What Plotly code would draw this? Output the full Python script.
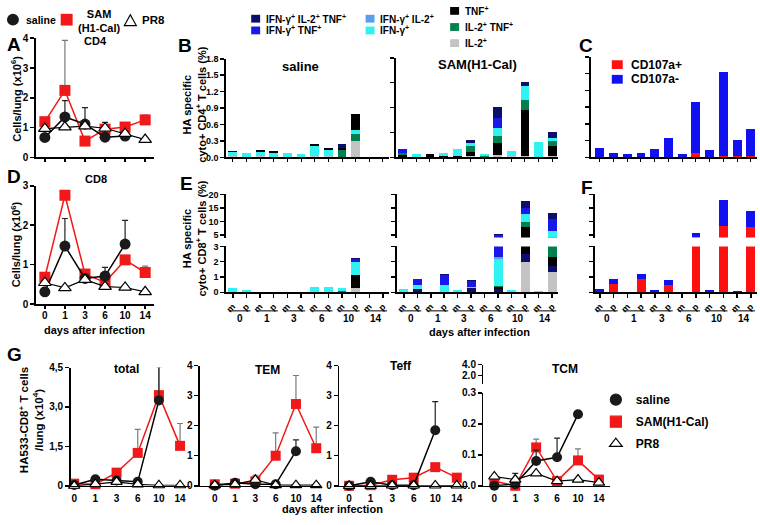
import plotly.graph_objects as go

W, H = 760, 525

# ------------------------------------------------------------------ data
DAYS = ["0", "1", "3", "6", "10", "14"]
MP = ["m", "p"] * 6

# A: CD4 cells/lung (x10^6)
A_SALINE = [0.67, 1.36, 1.12, 0.68, 0.72, None]
A_SALINE_ERR = [0, 0.55, 0.55, 0.50, 0, 0]
A_SAM = [1.20, 2.25, 0.55, 0.95, 1.02, 1.26]
A_SAM_ERR = [0, 1.68, 0, 0.12, 0, 0.16]
A_PR8 = [0.97, 1.02, 1.05, 0.98, 0.80, 0.60]

# D: CD8 cells/lung (x10^6)
D_SALINE = [0.31, 1.47, 0.65, 0.71, 1.52, None]
D_SALINE_ERR = [0, 0.70, 0, 0.22, 0.60, 0]
D_SAM = [0.68, 2.76, 0.76, 0.55, 1.12, 0.80]
D_SAM_ERR = [0.10, 0, 0, 0.05, 0, 0.16]
D_PR8 = [0.54, 0.41, 0.62, 0.44, 0.42, 0.31]

# B: HA specific cyto+ CD4+ T cells (%), bars m/p per day
B_SALINE = {
    "IL-2+":             [0.02, 0, 0.02, 0.01, 0, 0, 0.02, 0.02, 0, 0.30, 0, 0],
    "IL-2+ TNF+":        [0, 0, 0, 0, 0, 0, 0, 0, 0.13, 0.12, 0, 0],
    "IFN-γ+":            [0.08, 0.09, 0.08, 0.07, 0.09, 0.07, 0.18, 0.11, 0, 0.08, 0, 0],
    "TNF+ (upper)":      [0.02, 0, 0.03, 0.03, 0, 0, 0.05, 0.04, 0.04, 0.29, 0, 0],
    "IFN-γ+ IL-2+ TNF+": [0, 0, 0, 0, 0, 0, 0, 0, 0.07, 0, 0, 0],
}
B_SAM = {
    "IL-2+":             [0, 0, 0, 0, 0, 0.03, 0, 0.05, 0.02, 0.02, 0, 0.02],
    "TNF+":              [0.04, 0.01, 0.06, 0.02, 0.03, 0.08, 0, 0.23, 0, 0.93, 0, 0.20],
    "IL-2+ TNF+":        [0.05, 0, 0, 0, 0, 0.11, 0.02, 0.16, 0, 0.21, 0, 0.11],
    "IFN-γ+":            [0, 0.06, 0, 0.07, 0.13, 0.08, 0.04, 0.16, 0.11, 0.28, 0.32, 0.06],
    "IFN-γ+ TNF+":       [0.08, 0, 0, 0, 0, 0, 0, 0.20, 0, 0, 0, 0],
    "IFN-γ+ IL-2+ TNF+": [0, 0, 0, 0, 0, 0.06, 0, 0.21, 0, 0.08, 0, 0.13],
}

# C: CD107a split of CD4 responses (SAM)
C_POS = [0, 0, 0, 0, 0, 0.015, 0, 0.087, 0, 0.03, 0.025, 0.02]
C_NEG = [0.175, 0.075, 0.058, 0.087, 0.157, 0.335, 0.058, 0.913, 0.128, 1.49, 0.295, 0.49]

# E: HA specific cyto+ CD8+ T cells (%)
E_SALINE = {
    "IL-2+":             [0, 0, 0, 0, 0, 0, 0, 0.03, 0, 0.25, 0, 0],
    "TNF+":              [0, 0, 0, 0, 0, 0, 0, 0, 0.05, 0.85, 0, 0],
    "IL-2+ TNF+":        [0, 0, 0, 0, 0, 0, 0, 0, 0.05, 0, 0, 0],
    "IFN-γ+":            [0.25, 0.15, 0.03, 0.03, 0.03, 0.03, 0.35, 0.32, 0.15, 0.90, 0.02, 0.02],
    "IFN-γ+ TNF+":       [0, 0, 0, 0, 0, 0, 0, 0, 0, 0.17, 0, 0],
    "IFN-γ+ IL-2+ TNF+": [0, 0, 0, 0, 0, 0, 0, 0, 0, 0.10, 0, 0],
}
E_SAM = {
    "IL-2+":                     [0, 0, 0, 0, 0, 0, 0, 0.05, 0, 2.0, 0, 1.3],
    "IFN-γ+ IL-2+ TNF+ (lower)": [0, 0.20, 0, 0.05, 0, 0.25, 0, 0.15, 0, 0.5, 0, 0.4],
    "TNF+":                      [0, 0, 0, 0, 0, 0, 0, 0.15, 0, 5.6, 0, 0.6],
    "IL-2+ TNF+":                [0, 0, 0, 0, 0, 0, 0, 0.05, 0, 1.8, 0, 2.0],
    "IFN-γ+":                    [0.20, 0.30, 0.03, 0.45, 0.12, 0.10, 0.02, 1.8, 0.15, 2.8, 0.10, 2.1],
    "IFN-γ+ IL-2+":              [0, 0, 0, 0, 0, 0, 0, 0.10, 0, 0, 0, 0],
    "IFN-γ+ TNF+":               [0, 0.37, 0, 0.65, 0.05, 0.40, 0, 2.6, 0, 2.4, 0, 4.5],
    "IFN-γ+ IL-2+ TNF+":         [0, 0, 0, 0.05, 0, 0.07, 0, 0.40, 0, 2.4, 0, 2.1],
}

# F: CD107a split of CD8 responses (SAM)
F_POS = [0.02, 0.57, 0, 0.87, 0.04, 0.50, 0, 4.2, 0.03, 8.3, 0, 7.9]
F_NEG = [0.18, 0.28, 0.03, 0.33, 0.09, 0.32, 0.02, 1.6, 0.12, 9.8, 0.10, 5.9]

# G: HA533-CD8+ T cells / lung (x10^4)
G_TOT_SALINE = [0.03, 0.25, 0.20, 0.15, 3.25, None]
G_TOT_SALINE_ERR = [0, 0, 0, 0, 1.28, 0]
G_TOT_SAM = [0.08, 0.06, 0.50, 1.25, 3.45, 1.52]
G_TOT_SAM_ERR = [0, 0, 0.10, 0.90, 1.10, 0.85]
G_TOT_PR8 = [0.0, 0.06, 0.15, 0.05, 0.02, 0.02]

G_TEM_SALINE = [0.0, 0.10, 0.05, 0.05, 1.15, None]
G_TEM_SALINE_ERR = [0, 0, 0, 0, 0.38, 0]
G_TEM_SAM = [0.05, 0.07, 0.15, 1.0, 2.72, 1.25]
G_TEM_SAM_ERR = [0, 0, 0.20, 0.76, 0.95, 0.70]
G_TEM_PR8 = [0.02, 0.05, 0.20, 0.02, 0.02, 0.02]

G_TEFF_SALINE = [0.0, 0.13, 0.02, 0.02, 1.85, None]
G_TEFF_SALINE_ERR = [0, 0, 0, 0, 0.95, 0]
G_TEFF_SAM = [0.0, 0.02, 0.20, 0.27, 0.62, 0.27]
G_TEFF_SAM_ERR = [0, 0, 0, 0, 0, 0]
G_TEFF_PR8 = [0.0, 0.0, 0.01, 0.01, 0.01, 0.01]

G_TCM_SALINE = [0.0, 0.005, 0.08, 0.092, 0.231, None]
G_TCM_SALINE_ERR = [0, 0, 0.035, 0.062, 0, 0]
G_TCM_SAM = [0.015, 0.0, 0.124, 0.015, 0.082, 0.02]
G_TCM_SAM_ERR = [0, 0, 0.027, 0, 0.037, 0]
G_TCM_PR8 = [0.03, 0.02, 0.04, 0.015, 0.02, 0.01]
G_TCM_PR8_ERR = [0, 0.02, 0, 0, 0, 0]

# ------------------------------------------------------------------ styles
FONT = "Liberation Sans, Arial, Helvetica, sans-serif"
RED = "#f01818"
SEG_ORDER = [
    "IL-2+", "IFN-γ+ IL-2+ TNF+ (lower)", "TNF+", "IL-2+ TNF+", "IFN-γ+",
    "IFN-γ+ IL-2+", "TNF+ (upper)", "IFN-γ+ TNF+", "IFN-γ+ IL-2+ TNF+",
]
SEG_COLOR = {
    "IL-2+": "#c3c3c3",
    "IFN-γ+ IL-2+ TNF+ (lower)": "#0d0d6b",
    "TNF+": "#000000",
    "IL-2+ TNF+": "#00804e",
    "IFN-γ+": "#2ff2f2",
    "IFN-γ+ IL-2+": "#5a9ef0",
    "TNF+ (upper)": "#000000",
    "IFN-γ+ TNF+": "#1818e8",
    "IFN-γ+ IL-2+ TNF+": "#0d0d6b",
}
CD107_POS_COLOR = "#ff1010"
CD107_NEG_COLOR = "#1010f0"


def X(l, r):
    return [l / W, r / W]


def Y(t, b):
    return [1 - b / H, 1 - t / H]


def py(p):
    return 1 - p / H


def px(p):
    return p / W


def xr(i):
    return "x" if i == 1 else f"x{i}"


def yr(i):
    return "y" if i == 1 else f"y{i}"


def xk(i):
    return "xaxis" if i == 1 else f"xaxis{i}"


def yk(i):
    return "yaxis" if i == 1 else f"yaxis{i}"


AXS = dict(showline=True, linecolor="black", linewidth=1.5, ticks="outside",
           ticklen=4, tickwidth=1.5, tickcolor="black", showgrid=False,
           zeroline=False, tickfont=dict(size=10, color="black"), fixedrange=True)

fig = go.Figure()
lay = {}
BARPOS = list(range(12))
DAYPOS = list(range(6))


def add_stack(data, i):
    for key in SEG_ORDER:
        vals = data.get(key)
        if vals is None:
            continue
        fig.add_trace(go.Bar(x=BARPOS, y=vals, width=0.65, name=key,
                             marker=dict(color=SEG_COLOR[key], line=dict(width=0)),
                             xaxis=xr(i), yaxis=yr(i), showlegend=False,
                             hoverinfo="skip"))


def add_cd107(pos, neg, i):
    fig.add_trace(go.Bar(x=BARPOS, y=pos, width=0.65, name="CD107a+",
                         marker=dict(color=CD107_POS_COLOR, line=dict(width=0)),
                         xaxis=xr(i), yaxis=yr(i), showlegend=False, hoverinfo="skip"))
    fig.add_trace(go.Bar(x=BARPOS, y=neg, width=0.65, name="CD107a-",
                         marker=dict(color=CD107_NEG_COLOR, line=dict(width=0)),
                         xaxis=xr(i), yaxis=yr(i), showlegend=False, hoverinfo="skip"))


def err(arr):
    return dict(type="data", symmetric=False, array=[e or 0 for e in arr],
                arrayminus=[0] * len(arr), thickness=1.2, width=3)


def add_lines(i, saline, saline_err, sam, sam_err, pr8, pr8_err=None, msize=11):
    e_sam = err(sam_err)
    e_sam["color"] = "#7a7a7a"
    fig.add_trace(go.Scatter(x=DAYPOS, y=sam, mode="lines+markers", name="SAM(H1-Cal)",
                             line=dict(color=RED, width=1.5),
                             marker=dict(symbol="square", size=msize, color=RED),
                             error_y=e_sam, xaxis=xr(i), yaxis=yr(i),
                             showlegend=False, cliponaxis=False, hoverinfo="skip"))
    e_sal = err(saline_err)
    e_sal["color"] = "#222222"
    fig.add_trace(go.Scatter(x=DAYPOS, y=saline, mode="lines+markers", name="saline",
                             line=dict(color="black", width=1.5),
                             marker=dict(symbol="circle", size=msize, color="#1a1a1a"),
                             error_y=e_sal, xaxis=xr(i), yaxis=yr(i),
                             showlegend=False, cliponaxis=False, hoverinfo="skip"))
    kw = {}
    if pr8_err is not None:
        e_p = err(pr8_err)
        e_p["color"] = "#222222"
        kw["error_y"] = e_p
    fig.add_trace(go.Scatter(x=DAYPOS, y=pr8, mode="lines+markers", name="PR8",
                             line=dict(color="black", width=1.2),
                             marker=dict(symbol="triangle-up", size=msize, color="white",
                                         line=dict(color="black", width=1.2)),
                             xaxis=xr(i), yaxis=yr(i), showlegend=False,
                             cliponaxis=False, hoverinfo="skip", **kw))


# ---------------- A / D
add_lines(1, A_SALINE, A_SALINE_ERR, A_SAM, A_SAM_ERR, A_PR8)
lay[xk(1)] = dict(AXS, domain=X(33, 152), anchor="y", range=[-0.45, 5.45],
                  tickvals=DAYPOS, showticklabels=False, ticklen=3)
lay[yk(1)] = dict(AXS, domain=Y(33, 155), anchor="x", range=[0, 4], dtick=1)

add_lines(2, D_SALINE, D_SALINE_ERR, D_SAM, D_SAM_ERR, D_PR8)
lay[xk(2)] = dict(AXS, domain=X(33, 152), anchor="y2", range=[-0.45, 5.45],
                  tickvals=DAYPOS, ticktext=DAYS, ticklen=3, ticklabelstandoff=-2)
lay[yk(2)] = dict(AXS, domain=Y(184, 305), anchor="x2", range=[0, 3], dtick=1)

# ---------------- B
add_stack(B_SALINE, 3)
lay[xk(3)] = dict(AXS, domain=X(224, 388), anchor="y3", range=[-0.51, 11.44],
                  tickvals=BARPOS, showticklabels=False, ticklen=3, tickwidth=1)
lay[yk(3)] = dict(AXS, domain=Y(54, 155), anchor="x3", range=[0, 1.8], dtick=0.3,
                  tickformat=".1f", tickfont=dict(size=9, color="black"))
add_stack(B_SAM, 4)
lay[xk(4)] = dict(AXS, domain=X(395, 558), anchor="y4", range=[-0.51, 11.44],
                  tickvals=BARPOS, showticklabels=False, ticklen=3, tickwidth=1)
lay[yk(4)] = dict(AXS, domain=Y(53, 155), anchor="x4", range=[0, 2], dtick=0.5,
                  showticklabels=False)

# ---------------- C
add_cd107(C_POS, C_NEG, 5)
lay[xk(5)] = dict(AXS, domain=X(591, 758), anchor="y5", range=[-0.65, 11.45],
                  tickvals=BARPOS, showticklabels=False, ticklen=3, tickwidth=1)
lay[yk(5)] = dict(AXS, domain=Y(52, 155), anchor="x5", range=[0, 1.8], dtick=0.3,
                  showticklabels=False)

# ---------------- E (broken axis) and F
LOW_RANGE = [0, 3]
UP_RANGE = [4, 20.4]
for (lo, up, x0, x1, rng, data, labels) in [
    (6, 7, 224, 388, [-0.51, 11.44], E_SALINE, True),
    (8, 9, 396, 558, [-0.51, 11.44], E_SAM, False),
    (10, 11, 595, 758, [-0.37, 11.45], None, False),
]:
    if data is not None:
        add_stack(data, lo)
        add_stack(data, up)
    else:
        add_cd107(F_POS, F_NEG, lo)
        add_cd107(F_POS, F_NEG, up)
    lay[xk(lo)] = dict(AXS, domain=X(x0, x1), anchor=yr(lo), range=rng,
                       tickvals=BARPOS, ticktext=MP, tickangle=-45,
                       tickfont=dict(size=9, color="black"))
    lay[yk(lo)] = dict(AXS, domain=Y(246, 293), anchor=xr(lo), range=LOW_RANGE,
                       dtick=1, showticklabels=labels,
                       tickfont=dict(size=9, color="black"))
    lay[xk(up)] = dict(domain=X(x0, x1), anchor=yr(up), range=rng, visible=False,
                       fixedrange=True)
    lay[yk(up)] = dict(AXS, domain=Y(192, 237), anchor=xr(up), range=UP_RANGE,
                       tickvals=[5, 10, 15, 20], showticklabels=labels,
                       tickfont=dict(size=9, color="black"))

# ---------------- G
GX = dict(AXS, ticks="", tickfont=dict(size=10, color="black"), ticklabelstandoff=3)
add_lines(12, G_TOT_SALINE, G_TOT_SALINE_ERR, G_TOT_SAM, G_TOT_SAM_ERR, G_TOT_PR8, msize=10)
lay[xk(12)] = dict(GX, domain=X(68, 188), anchor="y12", range=[-0.17, 5.47],
                   tickvals=DAYPOS, ticktext=DAYS)
lay[yk(12)] = dict(AXS, domain=Y(370, 491), anchor="x12", range=[0, 4.5],
                   tickvals=[0, 1.5, 3.0, 4.5], ticktext=["0", "1,5", "3,0", "4,5"])

add_lines(13, G_TEM_SALINE, G_TEM_SALINE_ERR, G_TEM_SAM, G_TEM_SAM_ERR, G_TEM_PR8, msize=10)
lay[xk(13)] = dict(GX, domain=X(198, 320), anchor="y13", range=[-0.73, 5.25],
                   tickvals=DAYPOS, ticktext=DAYS)
lay[yk(13)] = dict(AXS, domain=Y(368, 491), anchor="x13", range=[0, 4], dtick=1)

add_lines(14, G_TEFF_SALINE, G_TEFF_SALINE_ERR, G_TEFF_SAM, G_TEFF_SAM_ERR, G_TEFF_PR8, msize=10)
lay[xk(14)] = dict(GX, domain=X(338, 467), anchor="y14", range=[-0.46, 5.5],
                   tickvals=DAYPOS, ticktext=DAYS)
lay[yk(14)] = dict(AXS, domain=Y(368, 491), anchor="x14", range=[0, 4], dtick=1)

add_lines(15, G_TCM_SALINE, G_TCM_SALINE_ERR, G_TCM_SAM, G_TCM_SAM_ERR, G_TCM_PR8,
          G_TCM_PR8_ERR, msize=10)
lay[xk(15)] = dict(GX, domain=X(483, 610), anchor="y15", range=[-0.52, 5.52],
                   tickvals=DAYPOS, ticktext=DAYS)
lay[yk(15)] = dict(AXS, domain=Y(396, 491), anchor="x15", range=[0, 0.3], dtick=0.1,
                   tickformat=".1f")
# upper part of the broken TCM axis: an empty trace so the subplot is created
fig.add_trace(go.Scatter(x=[None], y=[None], mode="markers", xaxis="x16", yaxis="y16",
                         showlegend=False, hoverinfo="skip"))
lay[xk(16)] = dict(domain=X(483, 610), anchor="y16", range=[-0.52, 5.52], visible=False,
                   fixedrange=True)
lay[yk(16)] = dict(AXS, domain=Y(367, 387), anchor="x16", range=[0.4, 4.0],
                   tickvals=[2.0, 4.0], ticktext=["2.0", "4.0"])

# G legend (real legend, marker-only entries)
for name, sym, col, lcol in [("saline", "circle", "#1a1a1a", "#1a1a1a"),
                             ("SAM(H1-Cal)", "square", RED, RED),
                             ("PR8", "triangle-up", "white", "black")]:
    fig.add_trace(go.Scatter(x=[None], y=[None], mode="markers", name=name,
                             legendgroup=name,
                             marker=dict(symbol=sym, size=11, color=col,
                                         line=dict(color=lcol, width=1.2)),
                             xaxis="x15", yaxis="y15", showlegend=True))

# ------------------------------------------------------------------ annotations
ann = []
shapes = []


def text(x, y, s, size=11, xanchor="center", angle=0, **kw):
    ann.append(dict(x=px(x), y=py(y), xref="paper", yref="paper", text=s,
                    showarrow=False, xanchor=xanchor, yanchor="middle",
                    textangle=angle, font=dict(size=size, color="black"), **kw))


for letter, x, y in [("A", 2, 39), ("B", 174, 40), ("C", 577, 40), ("D", 2, 175),
                     ("E", 176, 182), ("F", 579, 186), ("G", 2, 357)]:
    text(x, y, letter, size=19, xanchor="left")

text(93, 36, "CD4", 11)
text(93, 177, "CD8", 11)
text(299, 62, "saline", 13)
text(477, 60, "SAM(H1-Cal)", 13)
text(124, 371, "total", 12)
text(266, 373, "TEM", 12)
text(400, 368, "Teff", 12)
text(565, 372, "TCM", 12)

text(13, 95, "Cells/lung (x10<sup>6</sup>)", 11, angle=-90)
text(13, 244, "Cells/lung (x10<sup>6</sup>)", 11, angle=-90)
text(192, 101, "HA specific<br>cyto+ CD4<sup>+</sup> T cells (%)", 11, angle=-90)
text(192, 238, "HA specific<br>cyto+ CD8<sup>+</sup> T cells (%)", 11, angle=-90)
text(28, 424, "HA533-CD8<sup>+</sup> T cells<br>/lung (x10<sup>4</sup>)", 11.5, angle=-90)

text(92, 332, "days after infection", 11)
text(479, 334, "days after infection", 11)
text(331, 515, "days after infection", 11)

# day groups under E/F
for xi in (6, 8, 10):
    for d in range(6):
        shapes.append(dict(type="line", xref=xr(xi), yref="paper",
                           x0=2 * d - 0.3, x1=2 * d + 1.3, y0=py(312), y1=py(312),
                           line=dict(color="black", width=1)))
        ann.append(dict(x=2 * d + 0.5, y=py(320), xref=xr(xi), yref="paper",
                        text=DAYS[d], showarrow=False, yanchor="middle",
                        font=dict(size=10, color="black")))

# top-left legend (A/D)
shapes.append(dict(type="circle", xref="paper", yref="paper", x0=px(4), x1=px(16),
                   y0=py(20), y1=py(8), fillcolor="#1a1a1a", line=dict(width=0)))
text(21, 14, "saline", 10.5, xanchor="left")
shapes.append(dict(type="rect", xref="paper", yref="paper", x0=px(58), x1=px(70),
                   y0=py(20), y1=py(8), fillcolor=RED, line=dict(width=0)))
text(97, 15, "SAM<br>(H1-Cal)", 11)
shapes.append(dict(type="path", xref="paper", yref="paper",
                   path=f"M {px(122)} {py(20)} L {px(134)} {py(20)} L {px(128)} {py(9)} Z",
                   fillcolor="white", line=dict(color="black", width=1.2)))
text(138, 14, "PR8", 11.5, xanchor="left")

# B legend
for key, label, cx, cy in [
    ("IFN-γ+ IL-2+ TNF+", "IFN-γ<sup>+</sup> IL-2<sup>+</sup> TNF<sup>+</sup>", 254, 13),
    ("IFN-γ+ TNF+", "IFN-γ<sup>+</sup> TNF<sup>+</sup>", 254, 25),
    ("IFN-γ+ IL-2+", "IFN-γ<sup>+</sup> IL-2<sup>+</sup>", 369, 13),
    ("IFN-γ+", "IFN-γ<sup>+</sup>", 369, 25),
    ("TNF+", "TNF<sup>+</sup>", 454, 5),
    ("IL-2+ TNF+", "IL-2<sup>+</sup> TNF<sup>+</sup>", 454, 21.5),
    ("IL-2+", "IL-2<sup>+</sup>", 454, 38),
]:
    shapes.append(dict(type="rect", xref="paper", yref="paper", x0=px(cx - 4.5),
                       x1=px(cx + 4.5), y0=py(cy + 4), y1=py(cy - 4),
                       fillcolor=SEG_COLOR[key], line=dict(width=0)))
    text(cx + 8, cy, label, 10, xanchor="left")

# C legend
for col, label, cy in [(CD107_POS_COLOR, "CD107a+", 60), (CD107_NEG_COLOR, "CD107a-", 75)]:
    shapes.append(dict(type="rect", xref="paper", yref="paper", x0=px(612), x1=px(623),
                       y0=py(cy + 4.5), y1=py(cy - 4.5), fillcolor=col, line=dict(width=0)))
    text(629, cy, label, 12, xanchor="left")

lay.update(
    width=W, height=H, autosize=False,
    margin=dict(l=0, r=0, t=0, b=0),
    paper_bgcolor="white", plot_bgcolor="white",
    font=dict(family=FONT, color="black", weight="bold", size=11),
    barmode="stack",
    showlegend=True,
    legend=dict(x=px(596), y=py(388), xanchor="left", yanchor="top",
                font=dict(size=12), tracegroupgap=3, bgcolor="rgba(0,0,0,0)",
                itemclick=False, itemdoubleclick=False),
    annotations=ann, shapes=shapes,
)
fig.update_layout(**lay)
fig.write_html(
    "out.html",
    config={"displayModeBar": False, "staticPlot": True},
    post_script="document.body.style.margin='0px';document.body.style.overflow='hidden';",
)
